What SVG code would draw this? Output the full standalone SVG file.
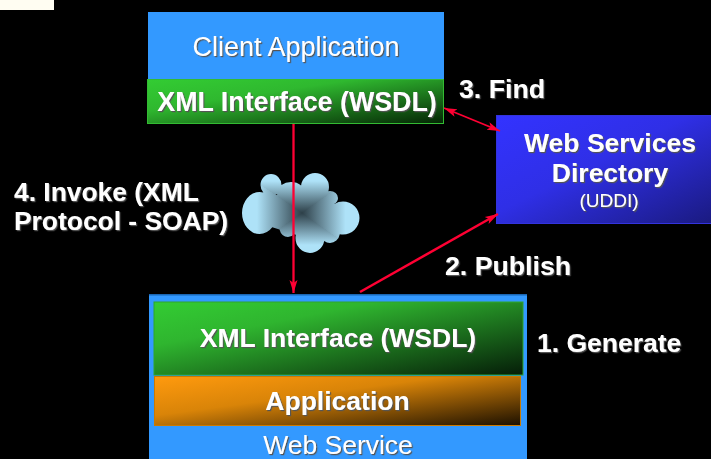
<svg xmlns="http://www.w3.org/2000/svg" width="711" height="459" viewBox="0 0 711 459">
<style>
text{font-family:"Liberation Sans",Arial,sans-serif;fill:#fff;filter:url(#sh);text-anchor:middle}
.b{font-weight:bold}
.l{text-anchor:start}
.c{stroke:#ff0033;fill:none}
</style>
<defs>
<filter id="sh" x="-10%" y="-20%" width="120%" height="150%"><feDropShadow dx="1.2" dy="1.2" stdDeviation="0.5" flood-color="#555"/></filter>
<linearGradient id="gg" x1="0" y1="0" x2="1" y2="1"><stop offset="0" stop-color="#33cc33"/><stop offset="0.35" stop-color="#2fb82f"/><stop offset="1" stop-color="#052505"/></linearGradient>
<linearGradient id="gg2" x1="0" y1="0" x2="1" y2="1"><stop offset="0" stop-color="#33cc33"/><stop offset="0.3" stop-color="#2fb52f"/><stop offset="1" stop-color="#051d08"/></linearGradient>
<linearGradient id="og" x1="0" y1="0" x2="1" y2="1"><stop offset="0" stop-color="#ff9a0e"/><stop offset="0.4" stop-color="#d98408"/><stop offset="1" stop-color="#1c1000"/></linearGradient>
<linearGradient id="bg" x1="0" y1="0" x2="1" y2="1"><stop offset="0" stop-color="#3333ff"/><stop offset="0.45" stop-color="#2f2fe6"/><stop offset="1" stop-color="#1a1a80"/></linearGradient>
<linearGradient id="cl" gradientUnits="userSpaceOnUse" x1="302" y1="0" x2="242" y2="0"><stop offset="0" stop-color="#2d3f48"/><stop offset="0.75" stop-color="#aee2f8"/></linearGradient>
<linearGradient id="cr" gradientUnits="userSpaceOnUse" x1="302" y1="0" x2="360" y2="0"><stop offset="0" stop-color="#2d3f48"/><stop offset="0.75" stop-color="#aee2f8"/></linearGradient>
<linearGradient id="ct" gradientUnits="userSpaceOnUse" x1="0" y1="213" x2="0" y2="173"><stop offset="0" stop-color="#2d3f48"/><stop offset="0.8" stop-color="#aee2f8"/></linearGradient>
<linearGradient id="cb" gradientUnits="userSpaceOnUse" x1="0" y1="213" x2="0" y2="253"><stop offset="0" stop-color="#2d3f48"/><stop offset="0.8" stop-color="#aee2f8"/></linearGradient>
<clipPath id="cloudclip">
<ellipse cx="259.500" cy="213" rx="17.500" ry="21"/>
<ellipse cx="271" cy="185" rx="10.500" ry="11"/>
<ellipse cx="291" cy="193" rx="14" ry="11"/>
<ellipse cx="315" cy="187" rx="14" ry="14"/>
<ellipse cx="330" cy="198" rx="8" ry="7"/>
<ellipse cx="343" cy="218" rx="16.500" ry="16.500"/>
<ellipse cx="330" cy="232" rx="10" ry="11"/>
<ellipse cx="310" cy="238" rx="14.500" ry="15"/>
<ellipse cx="288" cy="226" rx="9" ry="11"/>
<polygon points="262,195 330,195 345,225 300,236 265,225"/>
</clipPath>
<marker id="ah" markerWidth="14" markerHeight="10" refX="13" refY="5" orient="auto-start-reverse" markerUnits="userSpaceOnUse"><path d="M0 1L13 5L0 9L3 5z" fill="#ff0033"/></marker>
</defs>
<rect width="711" height="459" fill="#000"/>
<rect id="corner" width="54" height="10" fill="#fffdf2"/>
<g id="client">
<rect x="148" y="12" width="296" height="68" fill="#3399ff"/>
<text x="296" y="56" font-size="27">Client Application</text>
</g>
<g id="client-xml">
<rect x="147.500" y="79.500" width="296" height="44" fill="url(#gg)" stroke="#33bb33"/>
<text class="b" x="297" y="111" font-size="26.800">XML Interface (WSDL)</text>
</g>
<g id="cloud">
<g clip-path="url(#cloudclip)" shape-rendering="crispEdges">
<polygon points="302,213 240,171 240,255" fill="url(#cl)"/>
<polygon points="302,213 362,171 362,255" fill="url(#cr)"/>
<polygon points="302,213 240,171 362,171" fill="url(#ct)"/>
<polygon points="302,213 240,255 362,255" fill="url(#cb)"/>
</g>
</g>
<g id="directory">
<rect x="496.500" y="115.500" width="215" height="108" fill="url(#bg)" stroke="#3333dd"/>
<text class="b" x="610" y="152" font-size="26.500">Web Services</text>
<text class="b" x="610" y="182" font-size="26.500">Directory</text>
<text x="609" y="207" font-size="19">(UDDI)</text>
</g>
<g id="web-service">
<rect x="149" y="295" width="378" height="164" fill="#3399ff"/>
<rect x="149" y="294" width="378" height="1.500" fill="#1a66b3"/>
<text x="338" y="454" font-size="26.500">Web Service</text>
</g>
<g id="service-xml">
<rect x="154" y="302" width="369" height="73" fill="url(#gg2)" stroke="#2fa52f"/>
<text class="b" x="338" y="347" font-size="26.500">XML Interface (WSDL)</text>
</g>
<g id="service-app">
<rect x="154.500" y="376.500" width="366" height="49" fill="url(#og)" stroke="#cc7a00"/>
<text class="b" x="337.500" y="410" font-size="26.500">Application</text>
</g>
<g id="connectors">
<line class="c" x1="293.500" y1="124" x2="293.500" y2="293" stroke-width="2.300" marker-end="url(#ah)"/>
<line class="c" x1="444" y1="108" x2="500" y2="131" stroke-width="1.800" marker-start="url(#ah)" marker-end="url(#ah)"/>
<line class="c" x1="360" y1="292" x2="498" y2="214" stroke-width="2.500" marker-end="url(#ah)"/>
</g>
<g id="labels">
<text class="b l" x="14" y="201" font-size="26.400">4. Invoke (XML</text>
<text class="b l" x="14" y="230" font-size="26.400">Protocol - SOAP)</text>
<text class="b l" x="459" y="98" font-size="26.700">3. Find</text>
<text class="b l" x="445" y="275" font-size="26.700">2. Publish</text>
<text class="b l" x="537" y="352" font-size="26.500">1. Generate</text>
</g>
</svg>
